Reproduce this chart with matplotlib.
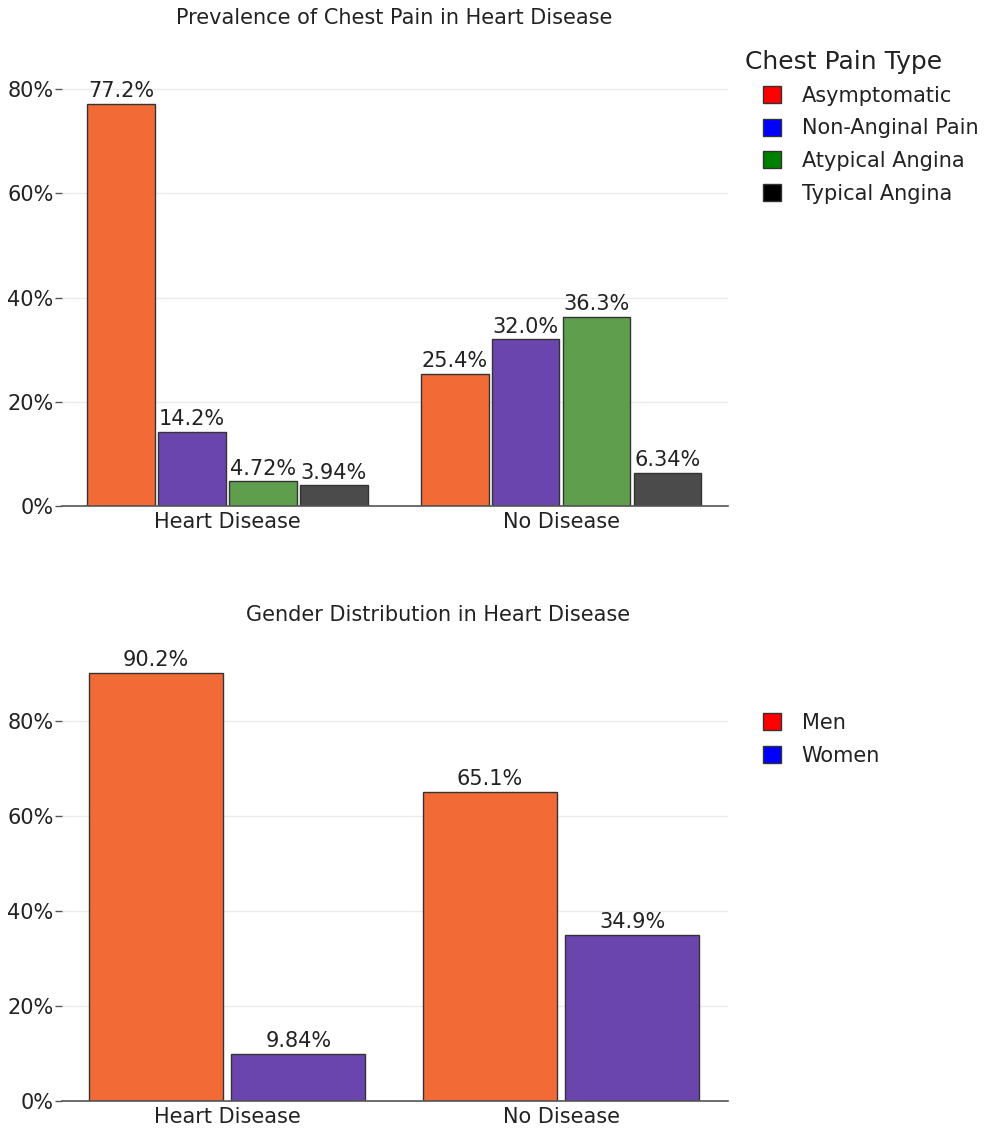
import matplotlib
matplotlib.use("Agg")
import matplotlib.pyplot as plt
from matplotlib.patches import Patch
import numpy as np

# data
groups = ["Heart Disease", "No Disease"]
pain_types = ["Asymptomatic", "Non-Anginal Pain", "Atypical Angina", "Typical Angina"]
pain_hd = [77.2, 14.2, 4.72, 3.94]
pain_nd = [25.4, 32.0, 36.3, 6.34]
genders = ["Men", "Women"]
gender_hd = [90.2, 9.84]
gender_nd = [65.1, 34.9]

bar_cols = ["#F26A36", "#6A45AE", "#5F9E4D", "#4B4B4B"]
leg_cols = ["#FF0000", "#0000FF", "#008000", "#000000"]
EDGE = "#333333"
TXT = "#222222"

plt.rcParams["font.family"] = ["DejaVu Sans"]
plt.rcParams["font.size"] = 15
plt.rcParams["text.color"] = TXT

W, H = 993, 1129
fig = plt.figure(figsize=(W / 100, H / 100), dpi=100)

def fx(px): return px / W
def fy(py): return 1 - py / H

ax1 = fig.add_axes([fx(62), fy(506), fx(728) - fx(62), (506 - 58) / H])
ax2 = fig.add_axes([fx(62), fy(1101), fx(728) - fx(62), (1101 - 645) / H])

def style(ax, top):
    ax.set_xlim(-0.495, 1.5)
    ax.set_ylim(0, top)
    ax.set_yticks([0, 20, 40, 60, 80])
    ax.set_yticklabels(["0%", "20%", "40%", "60%", "80%"], color=TXT)
    ax.set_xticks([0, 1])
    ax.set_xticklabels(groups, color=TXT)
    for s in ["top", "right", "left"]:
        ax.spines[s].set_visible(False)
    ax.spines["bottom"].set_color("#555555")
    ax.spines["bottom"].set_linewidth(1.2)
    ax.tick_params(axis="y", length=5, width=1, color="#555555", pad=1)
    ax.tick_params(axis="x", length=0, pad=4)
    ax.yaxis.grid(True, color="#EBEBEB", lw=1)
    ax.set_axisbelow(True)

x = np.arange(len(groups))
fmt = lambda v: f"{v:#.3g}%"

# top chart
style(ax1, 86)
step = 0.2125
for i, c in enumerate(bar_cols):
    vals = [pain_hd[i], pain_nd[i]]
    b = ax1.bar(x + (i - 1.5) * step, vals, width=0.203, color=c,
                edgecolor=EDGE, linewidth=1)
    ax1.bar_label(b, labels=[fmt(v) for v in vals], padding=2, fontsize=15, color=TXT)

# bottom chart
style(ax2, 96)
for i, c in enumerate(bar_cols[:2]):
    vals = [gender_hd[i], gender_nd[i]]
    b = ax2.bar(x + (i - 0.5) * 0.4255, vals, width=0.401, color=c,
                edgecolor=EDGE, linewidth=1)
    ax2.bar_label(b, labels=[fmt(v) for v in vals], padding=2, fontsize=15, color=TXT)

fig.text(fx(394), fy(18), "Prevalence of Chest Pain in Heart Disease",
         ha="center", va="center", fontsize=15)
fig.text(fx(438), fy(615), "Gender Distribution in Heart Disease",
         ha="center", va="center", fontsize=15)

# legends
fig.text(fx(745), fy(62), "Chest Pain Type", ha="left", va="center", fontsize=18)
h1 = [Patch(facecolor=c, edgecolor=EDGE, label=l) for c, l in zip(leg_cols, pain_types)]
fig.legend(handles=h1, loc="upper left", bbox_to_anchor=(fx(763), fy(86)),
           frameon=False, borderpad=0, borderaxespad=0, handlelength=0.85,
           handleheight=0.85, handletextpad=1.0, labelspacing=0.6, fontsize=15)
h2 = [Patch(facecolor=c, edgecolor=EDGE, label=l) for c, l in zip(leg_cols[:2], genders)]
fig.legend(handles=h2, loc="upper left", bbox_to_anchor=(fx(763), fy(713)),
           frameon=False, borderpad=0, borderaxespad=0, handlelength=0.85,
           handleheight=0.85, handletextpad=1.0, labelspacing=0.6, fontsize=15)

fig.savefig("out.png", dpi=100)
